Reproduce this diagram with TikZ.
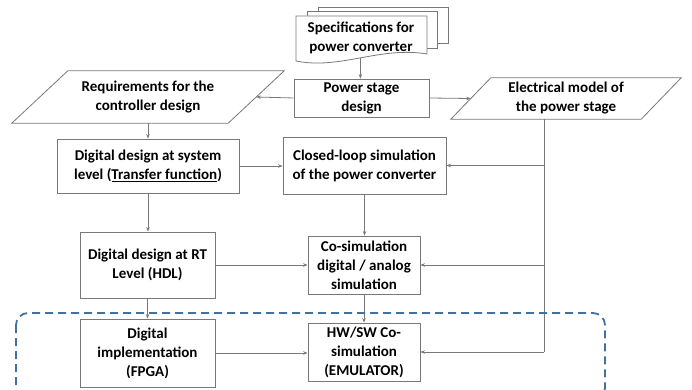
\documentclass[tikz,border=0pt]{standalone}
\usepackage{fontspec}
\setmainfont{Carlito}
\usetikzlibrary{arrows.meta,calc}
\definecolor{linegray}{RGB}{120,120,120}
\definecolor{frameblue}{RGB}{65,113,156}
\begin{document}
\begin{tikzpicture}[x=1pt,y=-1pt,
  every node/.style={font=\fontsize{15}{19}\selectfont\bfseries, align=center, inner sep=0pt},
  box/.style={draw=linegray, line width=0.8pt, fill=white, minimum width=#1},
  io/.style={minimum width=#1},
  conn/.style={draw=linegray, line width=0.8pt},
  flow/.style={conn, -{Stealth[length=4.5pt,width=3.5pt]}},
  page/.style={draw=linegray, line width=0.8pt, fill=white},
  zone/.style={draw=frameblue, line width=1.8pt, dash pattern=on 8pt off 5pt, rounded corners=12pt}]
\useasboundingbox (0,0) rectangle (692,390);
\clip (0,0) rectangle (692,390);

% stacked specification sheets
\draw[page] (318,7) rectangle (448,43);
\draw[page] (307,11) rectangle (437,48);
\draw[page] (296,16) -- (427,16) -- (427,54)
  .. controls (380,46) and (340,70) .. coordinate[pos=0.5] (specbot) (296,61) -- cycle;
\node (spec) at (361,38) {Specifications for\\power converter};

% process boxes
\node[box=135, minimum height=38] (power) at (361.5,98) {Power stage\\design};
\node[box=182, minimum height=54] (ddsys) at (148,166) {Digital design at system\\level (\underline{Transfer function})};
\node[box=163, minimum height=57] (closed) at (364.5,165.5) {Closed-loop simulation\\of the power converter};
\node[box=135, minimum height=66] (rt) at (147.5,265) {Digital design at RT\\Level (HDL)};
\node[box=112, minimum height=58] (cosim) at (364,265) {Co-simulation\\digital / analog\\simulation};
\node[box=135, minimum height=68] (fpga) at (147.5,353) {Digital\\implementation\\(FPGA)};
\node[box=112, minimum height=58] (hwsw) at (364,352) {HW/SW Co-\\simulation\\(EMULATOR)};

% data (parallelogram) nodes
\node[io=216, minimum height=52] (req) at (148,97) {};
\draw[page] ($(req.north west)+(28,0)$) -- ($(req.north east)+(28,0)$)
  -- ($(req.south east)-(28,0)$) -- ($(req.south west)-(28,0)$) -- cycle;
\node at (req.center) {Requirements for the\\controller design};
\node[io=190, minimum height=41] (elec) at (566,98.5) {};
\draw[page] ($(elec.north west)+(20,0)$) -- ($(elec.north east)+(20,0)$)
  -- ($(elec.south east)-(20,0)$) -- ($(elec.south west)-(20,0)$) -- cycle;
\node at (elec.center) {Electrical model of\\the power stage};

% connectors
\draw[flow] (specbot) -- (specbot |- power.north);
\draw[flow] (power.west) -- (req.east);
\draw[flow] (power.east) -- (elec.west);
\draw[flow] (req.south) -- (ddsys.north);
\draw[flow] (ddsys.east) -- (ddsys.east -| closed.west);
\draw[flow] (ddsys.south) -- (ddsys.south |- rt.north);
\draw[flow] (closed.south) -- (closed.south |- cosim.north);
\draw[flow] (rt.east) -- (rt.east -| cosim.west);
\draw[flow] (rt.south) -- (rt.south |- fpga.north);
\draw[flow] (cosim.south) -- (cosim.south |- hwsw.north);
\draw[flow] (fpga.east) -- (fpga.east -| hwsw.west);

\coordinate (ebus) at (544,352);
\draw[conn] (elec.south -| ebus) -- (ebus);
\draw[flow] (ebus |- closed.east) -- (closed.east);
\draw[flow] (ebus |- cosim.east) -- (cosim.east);
\draw[flow] (ebus) -- (hwsw.east |- ebus);

% emulation frame
\draw[zone] (16,313) rectangle (605,400);
\end{tikzpicture}
\end{document}
